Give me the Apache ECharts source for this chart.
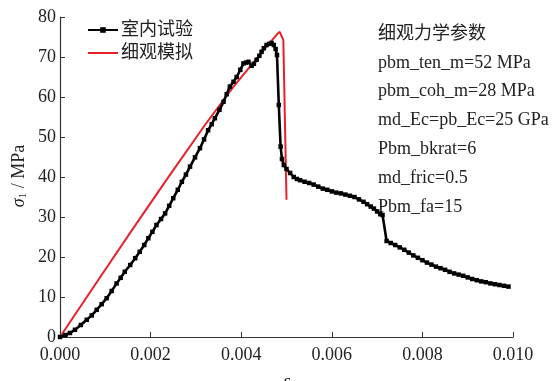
<!DOCTYPE html>
<html>
<head>
<meta charset="utf-8">
<script src="https://cdn.jsdelivr.net/npm/echarts@6/dist/echarts.min.js"></script>
<style>html,body{margin:0;padding:0;background:#fff}#c{width:558px;height:381px}</style>
</head>
<body>
<div id="c"></div>
<script>
var seriesNames = ['室内试验', '细观模拟'];
var xTicks = { min: 0, max: 0.010, interval: 0.002 };
var yTicks = { min: 0, max: 80, interval: 10 };
var annotationLines = ['细观力学参数', 'pbm_ten_m=52 MPa', 'pbm_coh_m=28 MPa', 'md_Ec=pb_Ec=25 GPa', 'Pbm_bkrat=6', 'md_fric=0.5', 'Pbm_fa=15'];

var testStrain = [0,0.00012,0.00022,0.00033,0.00046,0.00059,0.0007,0.00081,0.00092,0.00103,0.00114,0.00125,0.00134,0.00143,0.00155,0.00166,0.00176,0.00186,0.00195,0.00204,0.00213,0.00223,0.00232,0.00241,0.0025,0.0026,0.00269,0.00278,0.00287,0.00298,0.00309,0.00318,0.00327,0.00335,0.00342,0.00352,0.00361,0.00368,0.00375,0.00383,0.0039,0.00398,0.00405,0.00411,0.00416,0.00423,0.00428,0.00434,0.0044,0.00445,0.0045,0.00456,0.00462,0.00467,0.00472,0.00476,0.00479,0.00483,0.00487,0.0049,0.00494,0.005,0.00508,0.00516,0.00523,0.0053,0.0054,0.0055,0.0056,0.0057,0.0058,0.0059,0.006,0.0061,0.0062,0.0063,0.0064,0.0065,0.0066,0.0067,0.00678,0.00686,0.00693,0.007,0.00707,0.00712,0.00721,0.0073,0.0074,0.0075,0.0076,0.0077,0.0078,0.0079,0.008,0.0081,0.0082,0.0083,0.0084,0.0085,0.0086,0.0087,0.0088,0.0089,0.009,0.0091,0.0092,0.0093,0.0094,0.0095,0.0096,0.0097,0.0098,0.0099];
var testStress = [0,0.5,1.0,1.8,3.0,4.3,5.4,6.8,8.2,9.7,11.5,13.4,14.8,16.3,18.0,19.7,21.3,23.0,24.7,26.3,28.0,29.5,30.9,32.8,34.7,36.8,38.8,40.6,42.6,44.9,47.2,49.4,51.7,53.2,54.7,56.8,58.8,60.7,62.6,63.8,65.0,66.8,68.4,68.6,68.8,67.8,68.3,69.3,70.3,71.3,72.2,73.0,73.3,73.5,73.0,72.0,70.5,58.0,47.6,44.5,43.0,42.0,41.0,40.0,39.5,39.2,38.8,38.5,38.1,37.6,37.1,36.8,36.4,36.1,35.9,35.6,35.3,35.0,34.4,33.8,33.2,32.6,32.1,31.4,30.7,30.5,24.0,23.5,23.0,22.4,21.8,21.1,20.4,19.8,19.2,18.6,18.1,17.6,17.2,16.8,16.3,15.9,15.6,15.3,14.9,14.5,14.2,13.9,13.7,13.4,13.2,13.0,12.8,12.6];

var simStrain = [0,0.0008,0.0016,0.0024,0.0032,0.00383,0.00456,0.0048,0.00485,0.00489,0.00493,0.005];
var simStress = [0,13.5,26.9,40.1,53.0,62.6,72.6,75.8,76.3,75.9,74.2,34.3];

function pairs(xs, ys){ return xs.map(function(x,i){ return [x, ys[i]]; }); }

var serif = '"Liberation Serif","Noto Sans CJK SC",serif';
var chart = echarts.init(document.getElementById('c'), null, {renderer:'canvas'});
var axisLine = {show:true, lineStyle:{color:'#333', width:1.2}};
var graphics = annotationLines.map(function(t, i){
  return {type:'text', left:378, top: 25 + i*28.8, style:{text:t, font:'18px ' + serif, fill:'#222'}};
});
graphics.push({
  type:'text', x:19, y:176, rotation:Math.PI/2,
  style:{
    text:'{s|σ}{b|1}{n| / MPa}', align:'center', verticalAlign:'middle',
    rich:{
      s:{fontFamily:serif, fontStyle:'italic', fontSize:18, fill:'#222'},
      b:{fontFamily:serif, fontSize:11, fill:'#222', padding:[8,0,0,0]},
      n:{fontFamily:serif, fontSize:18, fill:'#222'}
    }
  }
});
chart.setOption({
  animation:false,
  backgroundColor:'#fff',
  grid:{left:60, right:45, top:17, bottom:44, containLabel:false, outerBoundsMode:'none'},
  legend:{
    orient:'vertical', left:82, top:16, itemWidth:30, itemHeight:7, itemGap:5,
    textStyle:{fontFamily:serif, fontSize:18, color:'#222', padding:[0,0,0,-2]},
    data:[{name:seriesNames[0]}, {name:seriesNames[1], itemStyle:{opacity:0}}]
  },
  xAxis:{
    type:'value', min:xTicks.min, max:xTicks.max, interval:xTicks.interval,
    name:'ε', nameLocation:'middle', nameGap:36,
    nameTextStyle:{fontFamily:serif, fontStyle:'italic', fontSize:18, color:'#222'},
    axisLine:axisLine,
    axisTick:{inside:true, length:5, lineStyle:{color:'#333'}},
    axisLabel:{fontFamily:serif, fontSize:18, color:'#222', margin:9, formatter:function(v){return v.toFixed(3);}},
    splitLine:{show:false}
  },
  yAxis:{
    type:'value', min:yTicks.min, max:yTicks.max, interval:yTicks.interval,
    axisLine:axisLine,
    axisTick:{inside:true, length:5, lineStyle:{color:'#333'}},
    axisLabel:{fontFamily:serif, fontSize:18, color:'#222', margin:4},
    splitLine:{show:false}
  },
  graphic:graphics,
  series:[
    {name:seriesNames[0], type:'line', data:pairs(testStrain, testStress), symbol:'rect', symbolSize:4.5,
     lineStyle:{color:'#000', width:2.6}, itemStyle:{color:'#000'}, z:3},
    {name:seriesNames[1], type:'line', data:pairs(simStrain, simStress), showSymbol:false, symbol:'none',
     lineStyle:{color:'#e8202a', width:2}, itemStyle:{color:'#e8202a'}, z:2}
  ]
});
</script>
</body>
</html>
